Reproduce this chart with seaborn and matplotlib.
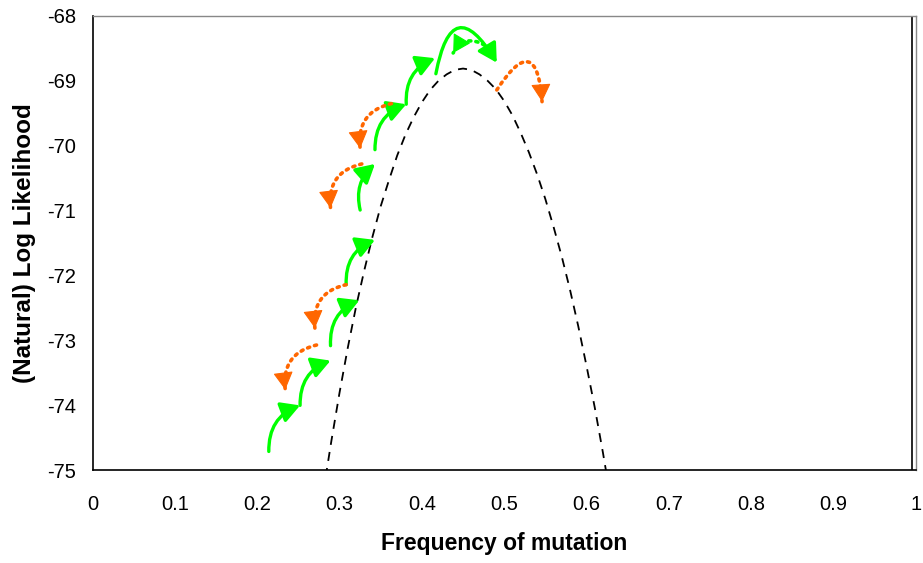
import matplotlib
matplotlib.use("Agg")
import matplotlib.pyplot as plt
import seaborn as sns
import pandas as pd
import numpy as np

# ---- data ----
curve_x = [0.28, 0.29, 0.30, 0.31, 0.32, 0.33, 0.34, 0.35, 0.36, 0.37, 0.38, 0.39,
           0.40, 0.41, 0.42, 0.43, 0.44, 0.45, 0.46, 0.47, 0.48, 0.49, 0.50, 0.51,
           0.52, 0.53, 0.54, 0.55, 0.56, 0.57, 0.58, 0.59, 0.60, 0.61, 0.62, 0.63]
curve_y = [-75.35, -74.55, -73.80, -73.11, -72.48, -71.92, -71.40, -70.93, -70.53,
           -70.15, -69.83, -69.56, -69.33, -69.14, -69.00, -68.90, -68.83, -68.81,
           -68.83, -68.90, -69.00, -69.13, -69.31, -69.53, -69.80, -70.10, -70.44,
           -70.82, -71.25, -71.71, -72.22, -72.78, -73.39, -74.03, -74.73, -75.48]

# accepted moves (green, solid): start x, start y, end x, end y, curvature
acc_x0 = [0.214, 0.252, 0.289, 0.308, 0.325, 0.343, 0.381, 0.417]
acc_y0 = [-74.71, -74.00, -73.08, -72.14, -70.99, -70.06, -69.36, -68.89]
acc_x1 = [0.252, 0.289, 0.324, 0.343, 0.343, 0.381, 0.416, 0.491]
acc_y1 = [-74.00, -73.31, -72.38, -71.45, -70.28, -69.36, -68.65, -68.72]
acc_rad = [-0.35, -0.35, -0.35, -0.35, -0.3, -0.35, -0.35, -1.3]

# rejected moves (orange, dotted)
rej_x0 = [0.272, 0.308, 0.327, 0.363, 0.491]
rej_y0 = [-73.07, -72.14, -70.28, -69.35, -69.14]
rej_x1 = [0.234, 0.270, 0.289, 0.325, 0.546]
rej_y1 = [-73.76, -72.81, -70.96, -70.04, -69.32]
rej_rad = [0.45, 0.45, 0.45, 0.45, -1.5]

# rejected move at the top (green, dotted)
top_x0, top_y0, top_x1, top_y1 = 0.476, -68.45, 0.438, -68.57

x_ticks = [0, 0.1, 0.2, 0.3, 0.4, 0.5, 0.6, 0.7, 0.8, 0.9, 1]
x_tick_labels = ["0", "0.1", "0.2", "0.3", "0.4", "0.5", "0.6", "0.7", "0.8", "0.9", "1"]
y_ticks = [-75, -74, -73, -72, -71, -70, -69, -68]

GREEN = "#00ff00"
ORANGE = "#ff6600"
HEAD = "-|>,head_length=0.75,head_width=0.42"

sns.set_theme(style="white")
plt.rcParams["font.family"] = ["Liberation Sans", "DejaVu Sans"]

fig = plt.figure(figsize=(9.23, 5.63), dpi=100)
ax = fig.add_axes([0.1004, 0.1647, 0.8917, 0.8069])
ax.set_xlim(0, 1)
ax.set_ylim(-75, -68)

df = pd.DataFrame({"x": curve_x, "y": curve_y})
sns.lineplot(data=df, x="x", y="y", ax=ax, color="black", linewidth=1.3,
             linestyle=(0, (5, 4)), sort=False)
ax.set_xlim(0, 1)
ax.set_ylim(-75, -68)


def solid_arrow(x0, y0, x1, y1, rad, color):
    ax.annotate("", xy=(x1, y1), xytext=(x0, y0),
                arrowprops=dict(arrowstyle=HEAD,
                                connectionstyle=f"arc3,rad={rad}",
                                color=color, lw=2.4,
                                shrinkA=0, shrinkB=0, mutation_scale=15))


def dotted_arrow(x0, y0, x1, y1, rad, color):
    ax.annotate("", xy=(x1, y1), xytext=(x0, y0),
                arrowprops=dict(arrowstyle="-",
                                connectionstyle=f"arc3,rad={rad}",
                                color=color, lw=2.6, linestyle=(0, (0.6, 1.4)),
                                shrinkA=0, shrinkB=0, capstyle="round"))
    # solid head along the end tangent of the arc
    p0 = ax.transData.transform((x0, y0))
    p1 = ax.transData.transform((x1, y1))
    d = p1 - p0
    mid = (p0 + p1) / 2
    ctrl = np.array([mid[0] + rad * d[1], mid[1] - rad * d[0]])
    t = p1 - ctrl
    t = t / np.hypot(*t)
    start = ax.transData.inverted().transform(p1 - 14 * t)
    ax.annotate("", xy=(x1, y1), xytext=tuple(start),
                arrowprops=dict(arrowstyle=HEAD, color=color, lw=0.8,
                                shrinkA=0, shrinkB=0, mutation_scale=15))


for i in range(len(acc_x0)):
    solid_arrow(acc_x0[i], acc_y0[i], acc_x1[i], acc_y1[i], acc_rad[i], GREEN)
for i in range(len(rej_x0)):
    dotted_arrow(rej_x0[i], rej_y0[i], rej_x1[i], rej_y1[i], rej_rad[i], ORANGE)
dotted_arrow(top_x0, top_y0, top_x1, top_y1, 0.5, GREEN)

ax.axvline(0.996, color="black", linewidth=1.2)

ax.set_xticks(x_ticks)
ax.set_xticklabels(x_tick_labels)
ax.set_yticks(y_ticks)
ax.set_yticklabels([str(v) for v in y_ticks])
ax.tick_params(axis="both", which="major", direction="out", length=5, width=1,
               color="black", labelsize=14.5, labelcolor="black")
ax.tick_params(axis="x", pad=12.5)
ax.tick_params(axis="y", pad=7)

for s in ["left", "bottom"]:
    ax.spines[s].set_color("black")
    ax.spines[s].set_linewidth(1.2)
for s in ["top", "right"]:
    ax.spines[s].set_color("#888888")
    ax.spines[s].set_linewidth(1.0)

ax.set_xlabel("Frequency of mutation", fontsize=16.5, fontweight="bold",
              color="black", labelpad=13)
ax.set_ylabel("(Natural) Log Likelihood", fontsize=17.5, fontweight="bold",
              color="black", labelpad=8)

fig.savefig("out.png", dpi=100)
